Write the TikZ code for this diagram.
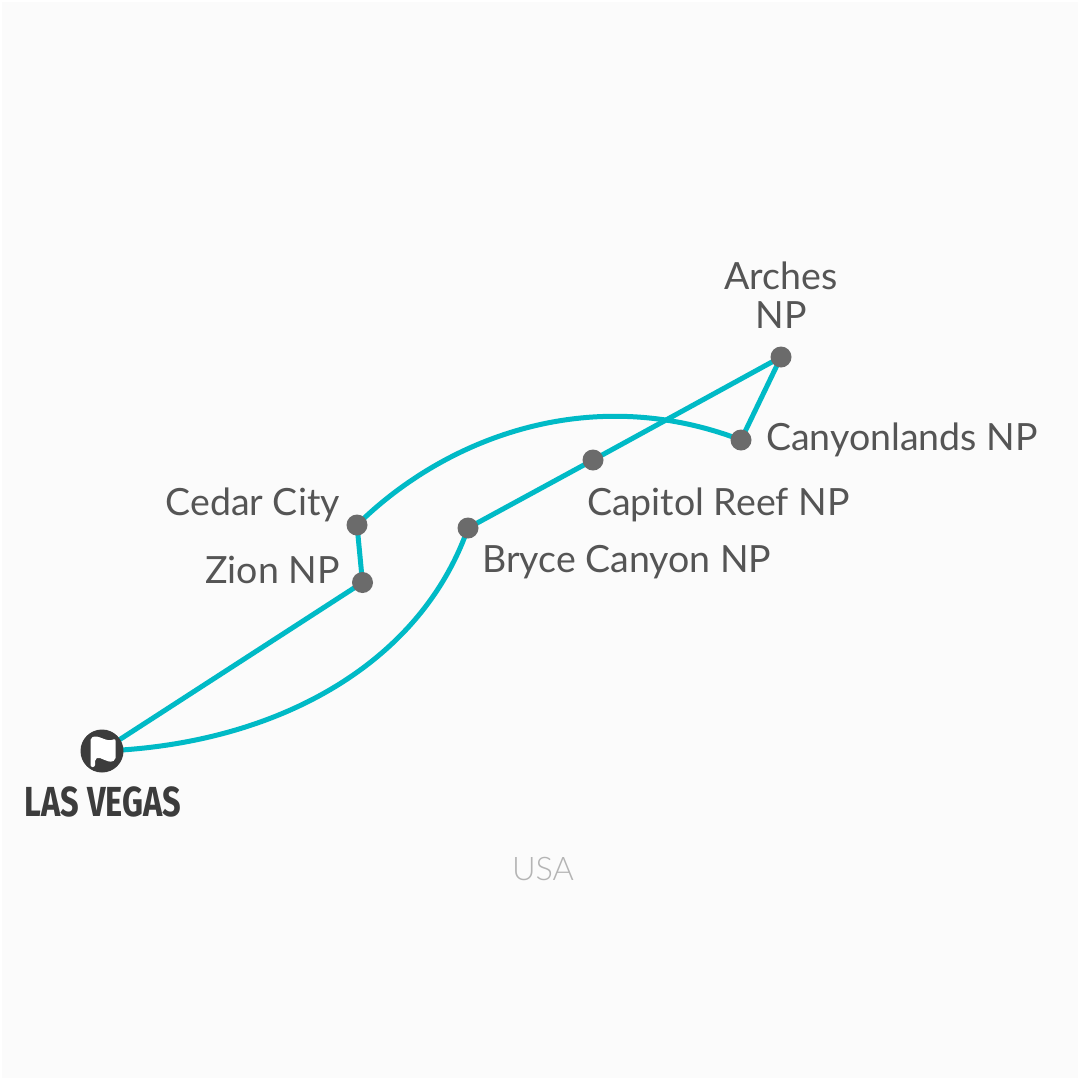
\documentclass[tikz,border=0pt]{standalone}
\usepackage{fontspec}
\setmainfont{Lato}
\newfontfamily\vegasfont[Scale=1]{Fira Sans}
\definecolor{bgc}{HTML}{FBFBFB}
\definecolor{routec}{HTML}{00BAC6}
\definecolor{stopc}{HTML}{6B6B6B}
\definecolor{labelc}{HTML}{555555}
\definecolor{darkc}{HTML}{3C3C3C}
\definecolor{usac}{HTML}{B4B4B4}
\tikzset{
 stopdot/.style={circle,fill=stopc,minimum size=21pt,inner sep=0pt},
 route/.style={draw=routec,line width=5pt},
 lab/.style={text=labelc,font=\fontsize{37.5}{39}\selectfont,inner sep=0pt},
}
\begin{document}
\begin{tikzpicture}[x=1pt,y=-1pt]
\useasboundingbox (0,0) rectangle (1080,1080);
\fill[white] (0,0) rectangle (1080,1080);
\fill[bgc] (2,2) rectangle (1078,1078);
\coordinate (lv) at (102,751);
\coordinate (zion) at (362.5,582.5);
\coordinate (cedar) at (357,525);
\coordinate (canyon) at (741,440);
\coordinate (arches) at (781,357);
\coordinate (capitol) at (593,460);
\coordinate (bryce) at (468,528);
\draw[route] (lv) -- (zion) -- (cedar);
\draw[route] (cedar) .. controls (445,438) and (590,382) .. (canyon);
\draw[route] (canyon) -- (arches) -- (capitol) -- (bryce);
\draw[route] (bryce) .. controls (420,665) and (275,745) .. (lv);
\foreach \n in {zion,cedar,canyon,arches,capitol,bryce}
  \node[stopdot] (d\n) at (\n) {};
\node[circle,fill=darkc,minimum size=43pt,inner sep=0pt] (lvdot) at (lv) {};
\fill[white,rounded corners=2pt] (90.5,738) .. controls (99,734) and (106,743) .. (115.5,738.5) -- (115.5,760) .. controls (107,764) and (101,756) .. (95,759) -- (95,767) -- (90.5,767) -- cycle;
\node[lab,align=center,anchor=south] (narches) at (781,329) {Arches\\NP};
\node[lab,anchor=west] (ncanyon) at (766,440) {Canyonlands NP};
\node[lab,anchor=west] (ncapitol) at (587,505) {Capitol Reef NP};
\node[lab,anchor=west] (nbryce) at (482,562.5) {Bryce Canyon NP};
\node[lab,anchor=east] (ncedar) at (340,505) {Cedar City};
\node[lab,anchor=east] (nzion) at (340,570) {Zion NP};
\node[text=usac,font=\fontsize{32.5}{36}\selectfont\fontspec{Lato Light},inner sep=0pt] (nusa) at (543,869) {USA};
\node[text=darkc,inner sep=0pt,xscale=0.776] (nlv) at (103,802) {\fontsize{42}{44}\selectfont\vegasfont\bfseries LAS VEGAS};
\end{tikzpicture}
\end{document}
